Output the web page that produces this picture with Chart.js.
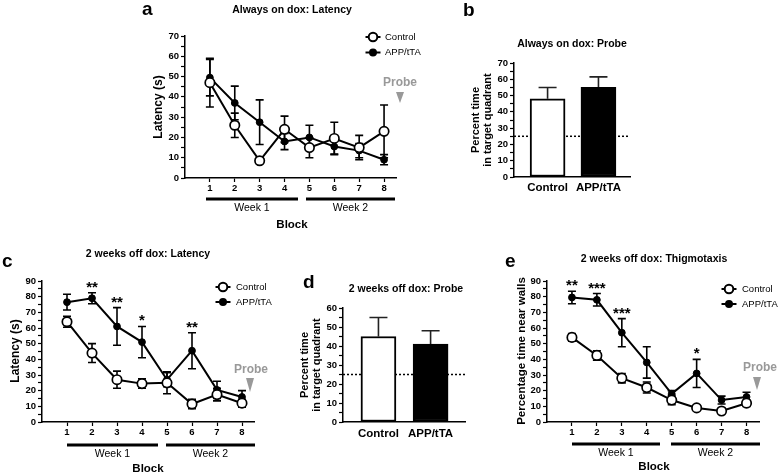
<!DOCTYPE html>
<html>
<head>
<meta charset="utf-8">
<script src="https://cdn.jsdelivr.net/npm/chart.js@4.4.1/dist/chart.umd.min.js"></script>
<style>
  body { margin: 0; background: #fff; }
  #wrap { position: relative; width: 778px; height: 475px; overflow: hidden; background: #fff; }
  #wrap canvas { position: absolute; left: 0; top: 0; }
</style>
</head>
<body>
<div id="wrap">
  <canvas id="chA" width="778" height="475"></canvas>
  <canvas id="chB" width="778" height="475"></canvas>
  <canvas id="chC" width="778" height="475"></canvas>
  <canvas id="chD" width="778" height="475"></canvas>
  <canvas id="chE" width="778" height="475"></canvas>
</div>
<script>
// training blocks and groups
const blocks = [1, 2, 3, 4, 5, 6, 7, 8];
const groups = ['Control', 'APP/tTA'];
const chance = 25;

// a - always on dox, latency (s)
const aControl = [47, 26, 8.5, 24, 15, 19.5, 15, 23];
const aControlErr = [12, 6, 1, 6.5, 5, 8, 6, 13];
const aApp = [49.5, 37, 27.5, 18, 20, 15.5, 13.5, 9];
const aAppErr = [9, 8.3, 11, 4, 6, 3.7, 3.5, 2.5];

// b - always on dox, probe (% time in target quadrant)
const bProbe = [48, 55];
const bProbeErr = [7, 6.5];

// c - 2 weeks off dox, latency (s)
const cControl = [64, 44, 27, 24.5, 25, 11.5, 17.5, 12];
const cControlErr = [3.5, 6, 5.5, 3, 7, 3, 4, 2.5];
const cApp = [76.5, 79, 61, 51, 27, 45.5, 20.5, 16];
const cAppErr = [5, 3.5, 12, 10, 4.5, 11.5, 5.5, 4];
const cStars = ['', '**', '**', '*', '', '**', '', ''];

// d - 2 weeks off dox, probe
const dProbe = [45, 41];
const dProbeErr = [10, 7];

// e - 2 weeks off dox, thigmotaxis (% time near walls)
const eControl = [54, 42.5, 28, 22, 14, 9, 7, 12];
const eControlErr = [2.5, 3, 3, 3.5, 3, 1, 1, 2];
const eApp = [79.5, 78, 57, 38, 18, 31, 14, 16];
const eAppErr = [4, 4, 9, 10, 2, 9, 2.5, 3];
const eStars = ['**', '***', '***', '', '', '*', '', ''];

const FF = '"Liberation Sans", Arial, Helvetica, sans-serif';
const font = (size, bold) => (bold ? 'bold ' : '') + size + 'px ' + FF;

function txt(ctx, s, x, y, f, o = {}) {
  ctx.save();
  ctx.font = f;
  ctx.fillStyle = o.color || '#000';
  ctx.textAlign = o.align || 'center';
  ctx.textBaseline = o.base || 'middle';
  ctx.translate(x, y);
  if (o.rot) ctx.rotate(-Math.PI / 2);
  ctx.fillText(s, 0, 0);
  ctx.restore();
}

function legendRow(ctx, x, y, filled, label, textX) {
  ctx.save();
  ctx.strokeStyle = '#000';
  ctx.lineWidth = 2;
  ctx.beginPath();
  ctx.moveTo(x - 7.5, y);
  ctx.lineTo(x + 7.5, y);
  ctx.stroke();
  ctx.beginPath();
  ctx.arc(x, y, filled ? 3 : 4.3, 0, Math.PI * 2);
  ctx.fillStyle = filled ? '#000' : '#fff';
  ctx.fill();
  ctx.stroke();
  ctx.restore();
  txt(ctx, label, textX, y, font(9.5), { align: 'left' });
}

// error bars, chance line, stars, labels
const panelDecor = {
  id: 'panelDecor',
  beforeDatasetsDraw(chart, args, o) {
    const ctx = chart.ctx;
    const y = chart.scales.y;
    if (o.chance != null) {
      const py = y.getPixelForValue(o.chance);
      ctx.save();
      ctx.setLineDash([2, 2]);
      ctx.lineWidth = 1.5;
      ctx.strokeStyle = '#000';
      ctx.beginPath();
      ctx.moveTo(chart.chartArea.left, py);
      ctx.lineTo(chart.chartArea.right, py);
      ctx.stroke();
      ctx.restore();
    }
    chart.data.datasets.forEach((ds, i) => {
      if (!ds.errors) return;
      const meta = chart.getDatasetMeta(i);
      ctx.save();
      ctx.strokeStyle = ds.errColor || '#000';
      ctx.lineWidth = 1.6;
      meta.data.forEach((el, j) => {
        const v = ds.data[j].y;
        const e = ds.errors[j];
        const top = y.getPixelForValue(v + e);
        const bot = ds.upOnly ? y.getPixelForValue(v) : y.getPixelForValue(v - e);
        const w = ds.capHalf;
        ctx.beginPath();
        ctx.moveTo(el.x, top);
        ctx.lineTo(el.x, bot);
        ctx.moveTo(el.x - w, top);
        ctx.lineTo(el.x + w, top);
        if (!ds.upOnly) {
          ctx.moveTo(el.x - w, bot);
          ctx.lineTo(el.x + w, bot);
        }
        ctx.stroke();
      });
      ctx.restore();
    });
  },
  afterDraw(chart, args, o) {
    const ctx = chart.ctx;
    if (o.stars) {
      const ds = chart.data.datasets[1];
      o.stars.forEach((s, j) => {
        if (!s) return;
        const px = chart.scales.x.getPixelForValue(ds.data[j].x);
        const top = chart.scales.y.getPixelForValue(ds.data[j].y + ds.errors[j]);
        txt(ctx, s, px, top - 1, font(15, true), { base: 'alphabetic' });
      });
    }
    (o.weeks || []).forEach(w => {
      ctx.save();
      ctx.strokeStyle = '#000';
      ctx.lineWidth = 3;
      ctx.beginPath();
      ctx.moveTo(w.x0, w.y);
      ctx.lineTo(w.x1, w.y);
      ctx.stroke();
      ctx.restore();
      txt(ctx, w.label, (w.x0 + w.x1) / 2, w.y + 9, font(10.5));
    });
    if (o.probe) {
      const p = o.probe;
      txt(ctx, 'Probe', p.tx, p.ty, font(12, true), { color: '#999' });
      ctx.save();
      ctx.fillStyle = '#999';
      ctx.beginPath();
      ctx.moveTo(p.ax - 4, p.a0);
      ctx.lineTo(p.ax + 4, p.a0);
      ctx.lineTo(p.ax, p.a1);
      ctx.closePath();
      ctx.fill();
      ctx.restore();
    }
    if (o.legend) {
      const L = o.legend;
      legendRow(ctx, L.x, L.y, false, groups[0], L.tx);
      legendRow(ctx, L.x, L.y + L.dy, true, groups[1], L.tx);
    }
    (o.texts || []).forEach(t => txt(ctx, t.t, t.x, t.y, t.f, t));
  }
};

const tickFont = { family: FF, size: 9.5, weight: 'bold' };

function yScale(max) {
  return {
    min: 0,
    max: max,
    ticks: {
      stepSize: 5,
      autoSkip: false,
      padding: 2,
      color: '#000',
      font: tickFont,
      callback: v => (v % 10 === 0 ? v : '')
    },
    grid: { drawOnChartArea: false, tickLength: 4, tickColor: '#000', tickWidth: 1.2 },
    border: { color: '#000', width: 1.5 },
    afterFit: s => { s.width = 30; }
  };
}

function linePanel(id, box, yMax, ctl, ctlErr, app, appErr, deco) {
  return new Chart(document.getElementById(id), {
    type: 'line',
    data: {
      datasets: [
        {
          label: groups[0],
          data: blocks.map((b, i) => ({ x: b, y: ctl[i] })),
          errors: ctlErr, capHalf: 4,
          borderColor: '#000', borderWidth: 2,
          pointRadius: 4.7, pointBorderWidth: 1.7,
          pointBackgroundColor: '#fff', pointBorderColor: '#000',
          clip: false
        },
        {
          label: groups[1],
          data: blocks.map((b, i) => ({ x: b, y: app[i] })),
          errors: appErr, capHalf: 4,
          borderColor: '#000', borderWidth: 2,
          pointRadius: 3.4, pointBorderWidth: 1,
          pointBackgroundColor: '#000', pointBorderColor: '#000',
          clip: false
        }
      ]
    },
    options: {
      responsive: false,
      animation: false,
      devicePixelRatio: 1,
      layout: { padding: { left: box.l - 30, top: box.t, right: 778 - box.r, bottom: 475 - box.b - 20 } },
      scales: {
        x: {
          type: 'linear',
          min: 0,
          max: 8.5,
          afterBuildTicks: s => { s.ticks = blocks.map(v => ({ value: v })); },
          ticks: { padding: 1, color: '#000', font: tickFont, maxRotation: 0 },
          grid: { drawOnChartArea: false, tickLength: 4, tickColor: '#000', tickWidth: 1.2 },
          border: { color: '#000', width: 1.5 },
          afterFit: s => { s.height = 20; }
        },
        y: yScale(yMax)
      },
      plugins: { legend: { display: false }, tooltip: { enabled: false }, panelDecor: deco }
    },
    plugins: [panelDecor]
  });
}

function barPanel(id, box, yMax, xMin, xMax, vals, errs, labelPad, deco) {
  return new Chart(document.getElementById(id), {
    type: 'bar',
    data: {
      datasets: [{
        data: groups.map((g, i) => ({ x: i, y: vals[i] })),
        errors: errs, upOnly: true, capHalf: 9, errColor: '#222',
        backgroundColor: ['#fff', '#000'],
        borderColor: '#000',
        borderWidth: 2,
        borderSkipped: false,
        barThickness: 35
      }]
    },
    options: {
      responsive: false,
      animation: false,
      devicePixelRatio: 1,
      layout: { padding: { left: box.l - 30, top: box.t, right: 778 - box.r, bottom: 475 - box.b - 24 } },
      scales: {
        x: {
          type: 'linear',
          min: xMin,
          max: xMax,
          offset: false,
          afterBuildTicks: s => { s.ticks = groups.map((g, i) => ({ value: i })); },
          ticks: { padding: labelPad, color: '#000', font: { family: FF, size: 11.5, weight: 'bold' }, maxRotation: 0,
                   callback: v => groups[v] },
          grid: { drawOnChartArea: false, drawTicks: false },
          border: { color: '#000', width: 1.5 },
          afterFit: s => { s.height = 24; }
        },
        y: yScale(yMax)
      },
      plugins: { legend: { display: false }, tooltip: { enabled: false }, panelDecor: deco }
    },
    plugins: [panelDecor]
  });
}

// panel a
linePanel('chA', { l: 185, r: 396.5, t: 36, b: 178 }, 70, aControl, aControlErr, aApp, aAppErr, {
  legend: { x: 373, y: 37, dy: 15.5, tx: 385 },
  probe: { tx: 400, ty: 83, ax: 400, a0: 92, a1: 103 },
  weeks: [{ x0: 206, x1: 298, y: 199, label: 'Week 1' }, { x0: 306, x1: 395, y: 199, label: 'Week 2' }],
  texts: [
    { t: 'a', x: 142, y: 15, f: font(19, true), align: 'left', base: 'alphabetic' },
    { t: 'Always on dox: Latency', x: 292, y: 10, f: font(10.5, true) },
    { t: 'Latency (s)', x: 159, y: 107, f: font(12, true), rot: true },
    { t: 'Block', x: 292, y: 225, f: font(11.5, true) }
  ]
});

// panel b
barPanel('chB', { l: 514, r: 630, t: 63, b: 177 }, 70, -0.66, 1.62, bProbe, bProbeErr, 4, {
  chance: chance,
  texts: [
    { t: 'b', x: 463, y: 16, f: font(19, true), align: 'left', base: 'alphabetic' },
    { t: 'Always on dox: Probe', x: 572, y: 44, f: font(10.5, true) },
    { t: 'Percent time', x: 476, y: 120, f: font(11, true), rot: true },
    { t: 'in target quadrant', x: 487.5, y: 120, f: font(11, true), rot: true }
  ]
});

// panel c
linePanel('chC', { l: 42, r: 254.5, t: 281, b: 422 }, 90, cControl, cControlErr, cApp, cAppErr, {
  stars: cStars,
  legend: { x: 223, y: 287, dy: 15, tx: 236 },
  probe: { tx: 251, ty: 370, ax: 250, a0: 378, a1: 392 },
  weeks: [{ x0: 67, x1: 158, y: 445, label: 'Week 1' }, { x0: 166, x1: 255, y: 445, label: 'Week 2' }],
  texts: [
    { t: 'c', x: 2, y: 267, f: font(19, true), align: 'left', base: 'alphabetic' },
    { t: '2 weeks off dox: Latency', x: 148, y: 254, f: font(10.5, true) },
    { t: 'Latency (s)', x: 16, y: 351, f: font(12, true), rot: true },
    { t: 'Block', x: 148, y: 469, f: font(11.5, true) }
  ]
});

// panel d
barPanel('chD', { l: 343, r: 465, t: 308, b: 422 }, 60, -0.68, 1.66, dProbe, dProbeErr, 5, {
  chance: chance,
  texts: [
    { t: 'd', x: 303, y: 288, f: font(19, true), align: 'left', base: 'alphabetic' },
    { t: '2 weeks off dox: Probe', x: 406, y: 289, f: font(10.5, true) },
    { t: 'Percent time', x: 305, y: 365, f: font(11, true), rot: true },
    { t: 'in target quadrant', x: 316.5, y: 365, f: font(11, true), rot: true }
  ]
});

// panel e
linePanel('chE', { l: 547, r: 759, t: 281, b: 422 }, 90, eControl, eControlErr, eApp, eAppErr, {
  stars: eStars,
  legend: { x: 729, y: 289, dy: 15, tx: 742 },
  probe: { tx: 760, ty: 368, ax: 757, a0: 377, a1: 390 },
  weeks: [{ x0: 572, x1: 660, y: 444, label: 'Week 1' }, { x0: 671, x1: 760, y: 444, label: 'Week 2' }],
  texts: [
    { t: 'e', x: 505, y: 267, f: font(19, true), align: 'left', base: 'alphabetic' },
    { t: '2 weeks off dox: Thigmotaxis', x: 654, y: 259, f: font(10.5, true) },
    { t: 'Percentage time near walls', x: 522, y: 351, f: font(11.5, true), rot: true },
    { t: 'Block', x: 654, y: 467, f: font(11.5, true) }
  ]
});
</script>
</body>
</html>
